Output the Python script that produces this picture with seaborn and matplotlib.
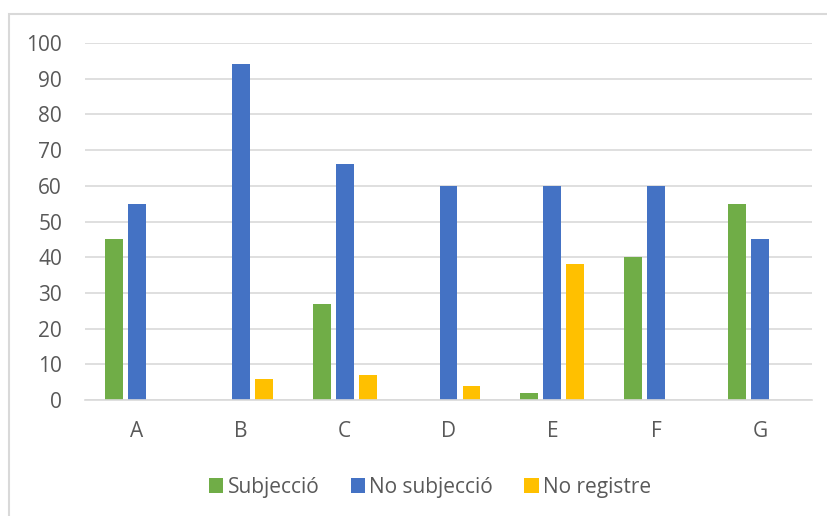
import matplotlib
matplotlib.use("Agg")
import matplotlib.pyplot as plt
import seaborn as sns
import pandas as pd
from matplotlib.patches import Rectangle

categories = ["A", "B", "C", "D", "E", "F", "G"]
subjeccio = [45, 0, 27, 0, 2, 40, 55]
no_subjeccio = [55, 94, 66, 60, 60, 60, 45]
no_registre = [0, 6, 7, 4, 38, 0, 0]
series_names = ["Subjecció", "No subjecció", "No registre"]
colors = ["#70AD47", "#4472C4", "#FFC000"]

rows = []
for name, vals in zip(series_names, [subjeccio, no_subjeccio, no_registre]):
    for c, v in zip(categories, vals):
        rows.append({"cat": c, "serie": name, "val": v})
df = pd.DataFrame(rows)

sns.set_theme(style="white")
plt.rcParams['font.family'] = ['Open Sans', 'DejaVu Sans']

fig = plt.figure(figsize=(8.27, 5.16), dpi=100)
ax = fig.add_axes([85/827, 1-400/516, (812-85)/827, (400-43)/516])

sns.barplot(data=df, x="cat", y="val", hue="serie", hue_order=series_names,
            palette=colors, width=0.664, gap=0.22, ax=ax, saturation=1,
            legend=True, linewidth=0, errorbar=None)

ax.set_ylim(0, 100)
ax.set_xlim(-0.5, 6.5)
ax.set_yticks(range(0, 101, 10))
ax.yaxis.grid(True, color="#d9d9d9", linewidth=1.2)
ax.set_axisbelow(True)
for s in ["top", "right", "left"]:
    ax.spines[s].set_visible(False)
ax.spines["bottom"].set_color("#d9d9d9")
ax.spines["bottom"].set_linewidth(1.2)
ax.tick_params(axis="both", length=0, labelsize=15, labelcolor="#595959")
ax.tick_params(axis="y", pad=16.5)
ax.tick_params(axis="x", pad=15)
ax.set_xlabel("")
ax.set_ylabel("")

leg = ax.legend(loc="center", bbox_to_anchor=(430/827, 1-487/516),
                bbox_transform=fig.transFigure, ncol=3, frameon=False,
                fontsize=15, handlelength=0.7, handleheight=0.7,
                handletextpad=0.2, columnspacing=1.5)
for t in leg.get_texts():
    t.set_color("#595959")

fig.patches.append(Rectangle((8.5/827, -0.05), 1.0, 1-14/516+0.05,
                             transform=fig.transFigure, fill=False,
                             edgecolor="#d9d9d9", linewidth=1.5))

fig.savefig("out.png", dpi=100)
